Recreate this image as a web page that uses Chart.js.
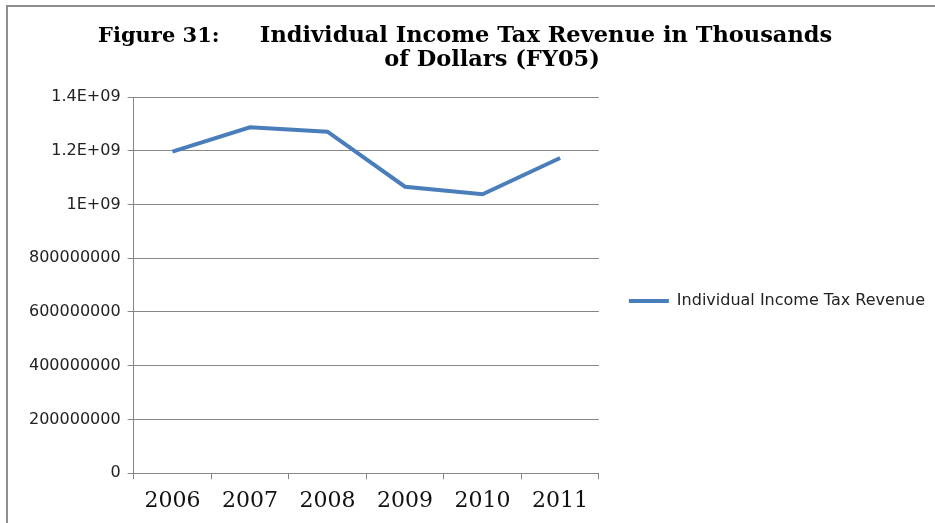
<!DOCTYPE html>
<html>
<head>
<meta charset="utf-8">
<script src="https://cdn.jsdelivr.net/npm/chart.js@4"></script>
<style>
  html, body { margin: 0; padding: 0; background: #fff; }
  #wrap { position: relative; width: 935px; height: 523px; }
  #frame {
    position: absolute; left: 6px; top: 5px; right: 0; bottom: 0;
    border-top: 2px solid #8e8e8e; border-left: 2px solid #8e8e8e;
    pointer-events: none;
  }
</style>
</head>
<body>
<div id="wrap">
  <canvas id="chart" width="935" height="523"></canvas>
  <div id="frame"></div>
</div>
<script>
const years = ['2006', '2007', '2008', '2009', '2010', '2011'];
const revenue = [1197000000, 1287000000, 1271000000, 1066000000, 1038000000, 1173000000];
const yTickLabels = ['0', '200000000', '400000000', '600000000', '800000000', '1E+09', '1.2E+09', '1.4E+09'];
const seriesName = 'Individual Income Tax Revenue';

const gridColor = '#868686';
const lineColor = '#4a7ebb';

// two-line heading above the plot
const headingPlugin = {
    id: 'heading',
    afterDraw(chart) {
        const ctx = chart.ctx;
        ctx.save();
        ctx.fillStyle = '#000';
        ctx.font = 'bold 21px "DejaVu Serif", serif';
        ctx.textBaseline = 'alphabetic';
        ctx.textAlign = 'left';
        ctx.fillText('Figure 31:', 98, 42);
        ctx.textAlign = 'center';
        ctx.font = 'bold 22.5px "DejaVu Serif", serif';
        ctx.fillText('Individual Income Tax Revenue in Thousands', 546, 42);
        ctx.fillText('of Dollars (FY05)', 492, 66);
        ctx.restore();
    }
};

// the legend box spans everything under the top padding; lift it so the
// entry sits level with the middle of the plot
const legendLift = {
    id: 'legendLift',
    afterLayout(chart) {
        const lg = chart.legend;
        if (lg) {
            lg.top -= 9;
            lg.bottom -= 9;
        }
    }
};

const ctx = document.getElementById('chart').getContext('2d');
const myChart = new Chart(ctx, {
    type: 'line',
    data: {
        labels: years,
        datasets: [{
            label: seriesName,
            data: revenue,
            borderColor: lineColor,
            backgroundColor: lineColor,
            borderWidth: 4,
            pointRadius: 0,
            tension: 0,
            fill: false
        }]
    },
    options: {
        responsive: false,
        animation: false,
        layout: {
            padding: { top: 97, left: 22, right: 0, bottom: 0 }
        },
        plugins: {
            legend: {
                display: true,
                position: 'right',
                maxWidth: 400,
                labels: {
                    usePointStyle: true,
                    pointStyle: 'line',
                    pointStyleWidth: 40,
                    padding: 30,
                    color: '#222',
                    font: { family: '"DejaVu Sans", sans-serif', size: 16 }
                }
            },
            tooltip: { enabled: false }
        },
        scales: {
            x: {
                offset: true,
                grid: {
                    offset: true,
                    drawOnChartArea: false,
                    drawTicks: true,
                    tickLength: 6,
                    color: gridColor
                },
                border: { display: true, color: gridColor },
                ticks: {
                    maxRotation: 0,
                    minRotation: 0,
                    padding: 12,
                    color: '#111',
                    font: { family: '"DejaVu Serif", serif', size: 22, lineHeight: 0.9 }
                }
            },
            y: {
                min: 0,
                max: 1400000000,
                grid: {
                    color: gridColor,
                    drawTicks: true,
                    tickLength: 6
                },
                border: { display: true, color: gridColor },
                ticks: {
                    stepSize: 200000000,
                    padding: 7,
                    color: '#222',
                    font: { family: '"DejaVu Sans", sans-serif', size: 16 },
                    callback: (value, index) => yTickLabels[index]
                }
            }
        }
    },
    plugins: [headingPlugin, legendLift]
});
</script>
</body>
</html>
